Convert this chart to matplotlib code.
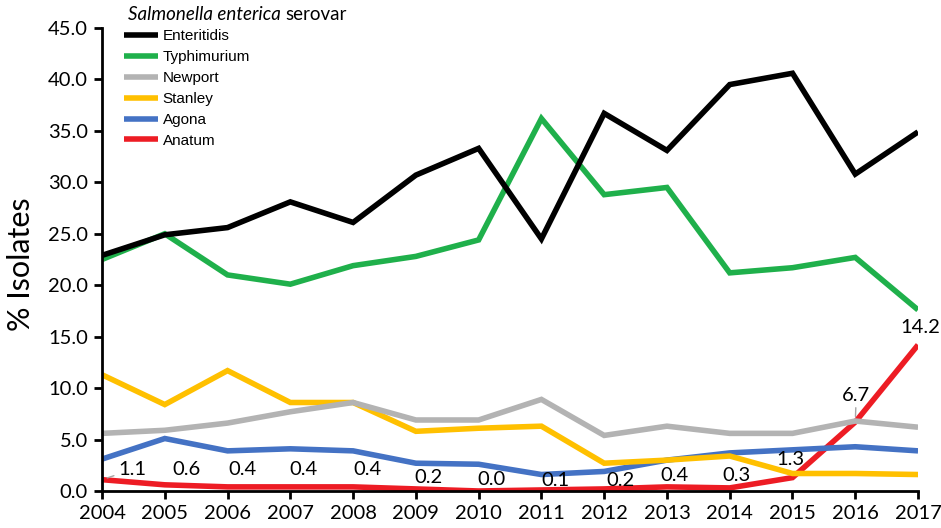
import matplotlib
matplotlib.use('Agg')
import matplotlib.pyplot as plt

# % of isolates per serovar, 2004-2017
years = list(range(2004, 2018))
enteritidis = [22.9, 24.9, 25.6, 28.1, 26.1, 30.7, 33.3, 24.5, 36.7, 33.1, 39.5, 40.6, 30.8, 34.9]
typhimurium = [22.5, 25.0, 21.0, 20.1, 21.9, 22.8, 24.4, 36.2, 28.8, 29.5, 21.2, 21.7, 22.7, 17.6]
newport = [5.6, 5.9, 6.6, 7.7, 8.6, 6.9, 6.9, 8.9, 5.4, 6.3, 5.6, 5.6, 6.8, 6.2]
stanley = [11.3, 8.4, 11.7, 8.6, 8.6, 5.8, 6.1, 6.3, 2.7, 3.0, 3.4, 1.7, 1.7, 1.6]
agona = [3.1, 5.1, 3.9, 4.1, 3.9, 2.7, 2.6, 1.6, 1.9, 3.0, 3.7, 4.0, 4.3, 3.9]
anatum = [1.1, 0.6, 0.4, 0.4, 0.4, 0.2, 0.0, 0.1, 0.2, 0.4, 0.3, 1.3, 6.7, 14.2]

yticks = [0, 5, 10, 15, 20, 25, 30, 35, 40, 45]

# label offsets (pixels) for the Anatum data labels
lab_dx = [30, 22, 15, 13, 14, 13, 13, 14, 16, 8, 7, -2, 1, 2]
lab_dy = [10, 15, 17, 17, 17, 11, 11, 9, 8, 11, 12, 18, 27, 17]

tick_font = 'Lato'
leg_font = 'Liberation Sans'

fig = plt.figure(figsize=(9.41, 5.28), dpi=100)
ax = fig.add_axes([0.1084, 0.0701, 0.8672, 0.8769])

lw = 4
series = [
    ('Enteritidis', enteritidis, '#000000'),
    ('Typhimurium', typhimurium, '#1fb04b'),
    ('Newport', newport, '#b3b3b3'),
    ('Stanley', stanley, '#ffc000'),
    ('Agona', agona, '#4472c4'),
    ('Anatum', anatum, '#ed1c24'),
]
# draw in reverse so black sits on top
for name, vals, col in series[::-1]:
    ax.plot(years, vals, color=col, lw=lw, label=name, solid_capstyle='butt',
            solid_joinstyle='miter')

for i, (x, v) in enumerate(zip(years, anatum)):
    kw = {}
    if i in (0, 12):
        kw['arrowprops'] = dict(arrowstyle='-', color='#a6a6a6', lw=1,
                                shrinkA=1, shrinkB=4)
    ax.annotate(f'{v:.1f}', (x, v), xytext=(lab_dx[i], lab_dy[i]),
                textcoords='offset pixels', ha='center', va='center',
                fontsize=14.5, family=tick_font, color='#000000', **kw)

ax.set_xlim(2004, 2017)
ax.set_ylim(0, 45)
ax.set_xticks(years)
ax.set_yticks(yticks)
ax.set_yticklabels([f'{t:.1f}' for t in yticks])
ax.spines['top'].set_visible(False)
ax.spines['right'].set_visible(False)
for s in ('left', 'bottom'):
    ax.spines[s].set_linewidth(2)
ax.tick_params(direction='out', length=6, width=2, labelsize=14.5, pad=4)
for lab in ax.get_xticklabels() + ax.get_yticklabels():
    lab.set_family(tick_font)
ax.set_ylabel('% Isolates', fontsize=22, family=tick_font)
ax.yaxis.set_label_coords(-0.082, 0.49)

handles, labels = ax.get_legend_handles_labels()
leg = ax.legend(handles[::-1], labels[::-1], loc='upper left',
                bbox_to_anchor=(0.02, 1.01), frameon=False,
                prop={'family': leg_font, 'size': 11},
                handlelength=2.2, handletextpad=0.3, labelspacing=0.45,
                borderaxespad=0.0)

t1 = fig.text(128 / 941, 1 - 15 / 528, 'Salmonella enterica', family=tick_font,
              style='italic', fontsize=13.5, va='center', ha='left')
fig.canvas.draw()
bb = t1.get_window_extent()
fig.text((bb.x1 + 4) / 941, 1 - 15 / 528, 'serovar', family=tick_font,
         fontsize=13.5, va='center', ha='left')

fig.savefig('out.png', dpi=100)
